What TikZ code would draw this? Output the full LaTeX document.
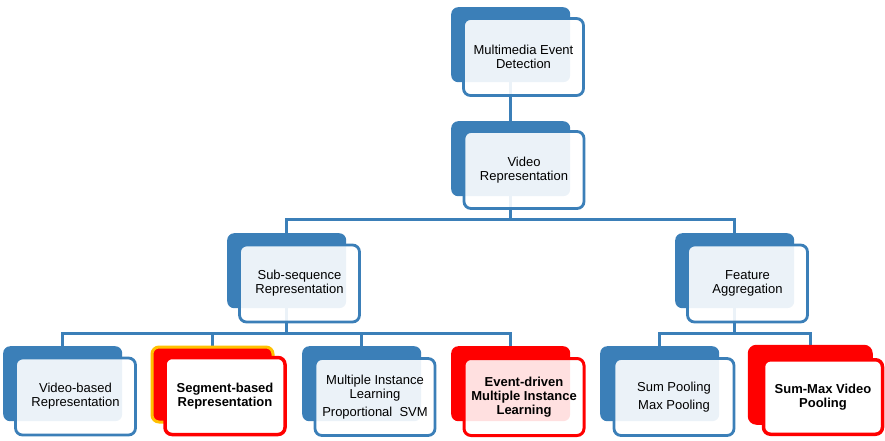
\documentclass[tikz,border=0pt]{standalone}
\usepackage{fontspec}
\setmainfont{Liberation Sans}
\pgfdeclarelayer{bg}
\pgfsetlayers{bg,main}
\definecolor{mblue}{RGB}{59,127,184}
\definecolor{mred}{RGB}{255,0,0}
\definecolor{morange}{RGB}{255,192,0}
\begin{document}
\begin{tikzpicture}[x=1pt,y=-1pt,
  bk/.style={anchor=north west, rectangle, rounded corners=7pt, fill=mblue, minimum width=119pt, minimum height=75pt, inner sep=0pt},
  fr/.style={anchor=center, rectangle, rounded corners=7pt, draw=mblue, line width=2.8pt, fill=white, fill opacity=0.9, text opacity=1, minimum width=120pt, minimum height=77pt, align=center, inner sep=0pt, font=\fontsize{13}{13.8}\selectfont},
  redbk/.style={bk, fill=mred},
  redfr/.style={fr, draw=mred, line width=3.5pt, font=\fontsize{13}{13.8}\selectfont\bfseries},
  conn/.style={draw=mblue, line width=2.8pt}]
\useasboundingbox (0,0) rectangle (885,440);
% level 0
\node[bk] (topb) at (451,7) {};
\node[fr] (top) at (523.5,57) {Multimedia Event\\Detection};
% level 1
\node[bk] (vidb) at (451,121) {};
\node[fr] (vid) at (524,170) {Video\\Representation};
% level 2
\node[bk] (subb) at (227,233) {};
\node[fr] (sub) at (299.5,283.5) {Sub-sequence\\Representation};
\node[bk] (featb) at (675,233) {};
\node[fr] (feat) at (747.5,283.5) {Feature\\Aggregation};
% level 3
\node[bk] (vbb) at (3,346) {};
\node[fr] (vb) at (75.5,396.5) {Video-based\\Representation};
\node[redbk, draw=morange, line width=3pt, minimum width=121pt, minimum height=75pt] (segb) at (150.5,345.5) {};
\node[redfr, fill opacity=1] (seg) at (225,396) {Segment-based\\Representation};
\node[bk] (milb) at (302,346) {};
\node[fr] (mil) at (375,397) {Multiple Instance\\Learning\\[4pt]Proportional\ \ SVM};
\node[redbk] (evb) at (451,346) {};
\node[redfr, line width=3pt, fill opacity=0.88] (ev) at (524,397) {Event-driven\\Multiple Instance\\Learning};
\node[bk] (spb) at (600,346) {};
\node[fr] (sp) at (674,397) {Sum Pooling\\[4.5pt]Max Pooling};
\node[redbk, draw=mred, line width=3.5pt, minimum width=121.5pt, minimum height=76.5pt] (smb) at (747.75,344.75) {};
\node[redfr, fill opacity=1, minimum width=119pt, minimum height=74.5pt] (sm) at (823,397) {Sum-Max Video\\Pooling};
% connectors
\begin{pgfonlayer}{bg}
\coordinate (h1) at (510.5,219.5);
\coordinate (h2) at (286.5,333.5);
\coordinate (h3) at (734.5,333.5);
\draw[conn] (topb.center) -- (vidb.center);
\draw[conn] (vidb.center) -- (h1);
\draw[conn] (subb.center) |- (h1) -| (featb.center);
\draw[conn] (subb.center) -- (h2);
\draw[conn] (vbb.center) |- (h2) -| (evb.center);
\draw[conn] (segb.center) -- (segb.center |- h2);
\draw[conn] (milb.center) -- (milb.center |- h2);
\draw[conn] (featb.center) -- (h3);
\draw[conn] (spb.center) |- (h3) -| (smb.center);
\end{pgfonlayer}
\end{tikzpicture}
\end{document}
